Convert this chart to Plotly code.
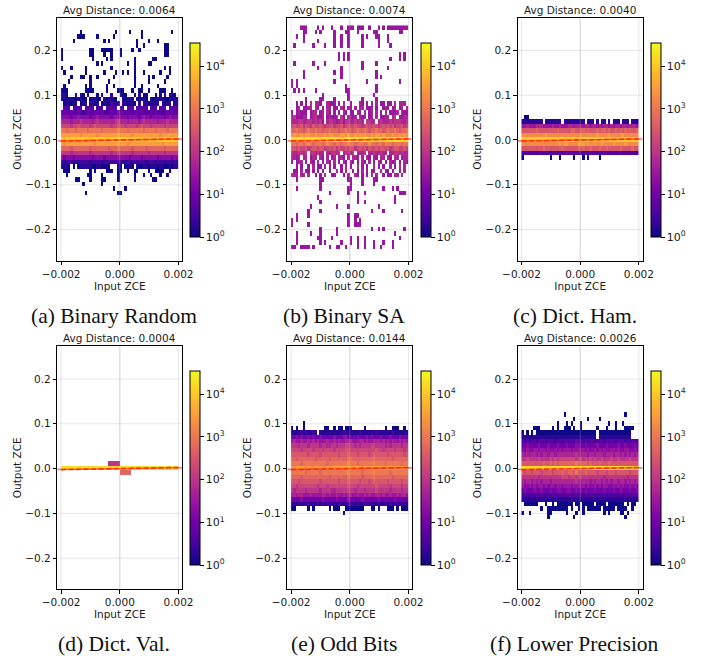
import numpy as np
import plotly.graph_objects as go

W, H = 711, 656
CH = "0123456789abcdefghij"
LEVEL_STEP = 0.25   # one character = a quarter of a decade of counts

TITLES = ["Avg Distance: 0.0064", "Avg Distance: 0.0074", "Avg Distance: 0.0040",
          "Avg Distance: 0.0004", "Avg Distance: 0.0144", "Avg Distance: 0.0026"]
CAPTIONS = ["(a) Binary Random", "(b) Binary SA", "(c) Dict. Ham.",
            "(d) Dict. Val.", "(e) Odd Bits", "(f) Lower Precision"]
X_TICKS = [-0.002, 0.0, 0.002]
Y_TICKS = [-0.2, -0.1, 0.0, 0.1, 0.2]
CB_TICKS = [0, 1, 2, 3, 4]
CB_LABELS = ["10<sup>0</sup>", "10<sup>1</sup>", "10<sup>2</sup>", "10<sup>3</sup>", "10<sup>4</sup>"]
CB_MAX = 4.54
TREND_X = [-0.002, 0.002]
TREND_Y = [-0.0025, 0.0025]
IDEAL_X = [-0.00213, 0.00213]
IDEAL_Y = [-0.00213, 0.00213]

# ---- sparse rows: output value -> occupied input-bins
A_SPARSE = {
 0.24:[8,23,29,34,47], 0.23:[7,8,9,15,22,34], 0.22:[5,18,20,32,37,41], 0.21:[32,35,44,45],
 0.20:[0,12,13,17,18,19,20,21,25,30,33,44,45], 0.19:[0,12,13,18,21,25,44,45],
 0.18:[0,13,19,21,31,39,40], 0.17:[15,17,28,31,37,38], 0.16:[0,4,10,21,31,44,46],
 0.15:[1,10,18,23,26,28,31,35,42,46], 0.14:[4,8,9,12,15,22,31,37,39,45],
 0.13:[3,12,20,31,37,44], 0.12:[1,10,12,19,22,31,34,41],
 0.11:[0,1,2,10,11,12,13,19,24,25,26,30,33,34,37,42,43,44,47],
 -0.07:[1,2,3,12,14,19,20,21,24,25,28,31,32,37,40,41,42,43,46],
 -0.08:[2,11,12,17,24,31,35,38,42,45], -0.09:[6,7,12,17,18,24,31,39,40],
 -0.10:[9,17], -0.11:[22,27], -0.12:[10,24,25],
}
B_SPARSE = {
 0.25:[4,5,6,11,13,17,21,24,25,26,28,29,30,33,37,39,41,42,43,44,45,46,47,48,49],
 0.24:[5,6,10,12,18,23,24,28,35,36,46,47], 0.23:[2,5,18,21,24,30,32,36,37,41],
 0.22:[5,11,18,21,24,30,37,41], 0.21:[1,9,14,18,21,24,30,37,42],
 0.19:[20,22,24,46,48], 0.18:[20,22,24,42,46,48], 0.17:[1,9,14,30,36],
 0.16:[11,21,30,41], 0.15:[5,18,21,36], 0.14:[5,21,36,38], 0.13:[0,2,18,32,46],
 0.12:[0,2,23,36], 0.11:[1,3,5,10,23,24,36], 0.10:[13,24,35], 0.09:[6,12,13,18,24,30,36],
 -0.09:[2,12,13,24,25,30,35,36], -0.10:[12,25,30,35], -0.11:[2,12,24,25,39,43,45],
 -0.12:[16,24,28,31,46,47,48], -0.13:[11,28,44], -0.14:[12,28,31,44], -0.15:[8,19,24,37],
 -0.16:[7,12,34,39,47], -0.17:[2,7,24,27,28], -0.18:[0,2,24,27,29], -0.19:[0,7,24,27,28,29],
 -0.20:[12,19,34,37,39,48], -0.21:[2,8,12,19,44], -0.22:[2,11,12,17,25,28,31,46],
 -0.23:[2,12,14,21,25,28,31,35,39,43], -0.24:[0,1,4,5,6,7,9,16,19,20,23,28,31,35,38,43],
}
C_SPARSE = {0.05:[1,2], -0.04:[0,12,16,22,26,28,33]}
D_SPARSE = {}
E_SPARSE = {
 0.10:[5], 0.09:[0,2,5,14,15,18,20,21,23,24,25,31,40,43,44,45,48],
 -0.09:[0,1,7,9,16,18,19,20,23,24,25,26,27,28,29,30,34,35,37,41,42,43,45,47,48,49],
 -0.10:[22],
}
F_SPARSE = {
 0.12:[18,44], 0.11:[22,28,33], 0.10:[15,19,21,25,37,40,43],
 0.09:[5,6,7,13,15,18,19,20,22,25,32,36,40,44,45,46,47],
 -0.09:[8,11,12,13,14,15,16,17,18,19,21,24,26,28,29,30,31,32,33,35,36,37,38,39,41,42,43,44,47],
 -0.10:[0,3,11,12,19,23,26,35,37,42,43,45], -0.11:[11,22,44],
}
SPARSE_LEVEL = [0, 6, 0, 0, 0, 0]

# ---- dense rows: output value -> one character per input-bin ('.' = empty)
A_DENSE = {
 0.10: "110...1.10 .1...0.1.. .1...100.. .0.1.00... 0.1.1.110. 1...",
 0.09: "0101100110 0.01100.10 1100..1011 1.10110.10 0111001011",
 0.08: ".011011.01 1.1101.011 02112.1101 10.1.11011 11.1011.11",
 0.07: ".332.3233. 3332.232.3 3332.33.33 3.33333.32 3.333.3333",
 0.06: "3443433432 3433443432 3433544343 3443433343 4332343433",
 0.05: "5555455655 5545565555 5456655545 5554565545 5555456555",
 0.04: "7777677787 7776787777 7778977767 7776787777 7677787777",
 0.03: "9999899a99 9989a99999 9899a99899 9989a99989 9999899999",
 0.02: "ccbcccbccc cbcccccbcc ccccdcccbc cccccbcccc bccccbcccc",
 0.01: "eeeeeeeede eeeeedeeee eeeefeeeee deeeeeeeee eedeeeeeee",
 0.00: "gfggggfggg ggfggggggf gggghggggf gggggfgggg fggggggggg",
 -0.01:"edeeeeeeee eeeedeeeee eeeefeeede eeeeeeeeee eeedeeeeee",
 -0.02:"bbbbabbbbb bbabbbbbbb abbbcbbbbb abbbbbabbb bbbbabbbbb",
 -0.03:"8888788888 8878888888 8788988888 7888888788 8888788888",
 -0.04:"5455545555 5554555545 5555655554 5555455555 5455555455",
 -0.05:"2122212122 2212222122 1222322122 1222221222 1222122122",
 -0.06:"0110.0.011 1110011001 0...10.011 0.10011011 1011001011",
}
B_DENSE = {
 0.08: "..6.6.6.7. 776..7666. 6.7..6...7 6.6.7.7.66 .66.7.777.",
 0.07: "..67.6677. 76.6.77.66 .76.66.7.7 7.667.6..6 76.67.67.7",
 0.06: "6.67666.67 7.67.76.6. 6.76.66.76 .7.67.7.6. 7.6667.766",
 0.05: "7866677.67 8667.67667 .86.7767.7 67.67.7.66 77.78.6677",
 0.04: "7778877887 8786.78876 7868877878 7.8877.787 7787888778",
 0.03: "9a99a8a98a 99a9899a89 9a89a99a99 89a99a989a 9a9a899a89",
 0.02: "bbcbbabcbb cbbabbcbbb abbcbbabcb bcbabbcbba bcbbcbabbc",
 0.01: "deddedeedd edddedeedd deedfddede deddedeede dddeddeded",
 0.00: "hhhhhghhhh hhghhhhhhh hghhihhhhg hhhhhghhhh ghhhhhhhgh",
 -0.01:"ccbccbcdcb cccbcdccbc cbccdccbcc cbcdccbccb dccbcccbcc",
 -0.02:"aa9a99a89a a9aa89a9a8 a99a9aa89a 9a8a99a9aa 9a89aa99a9",
 -0.03:"8778878.88 7877.77887 8.78878.77 78.7787787 7.77887877",
 -0.04:"7767.77.67 7.76.7.67. 776.7.776. 7.76.76.77 .76.77.677",
 -0.05:"6.677.6.76 .7.6.76.7. 6.76.76.6. 76.7.6.76. 6.767.6.76",
 -0.06:"..6.6..6.7 .66.7.6.6. .6.7.6..7. 6.6..7.6.6 ..7.6.7.7.",
 -0.07:".66.7.66.6 .6.6..6..7 .6.7..6.6. 7.6.66..7. 66.6..6.7.",
 -0.08:"777.77.7.. 6.6.7..66. ..6.7..76. 6.6.7.7..6 .66.77.7..",
}
C_DENSE = {
 0.04: "111111111. 1111111.11 1111111.11 1.1.11.1.1 11.111.111",
 0.03: "6676667776 6667667666 7767776776 7767677676 7767767776",
 0.02: "aaaaaabaaa aaaaabaaaa abbaabbaba aababbabaa babababaab",
 0.01: "dddddddddd eddddddddd dddddedddd ddeddddedd dddedddddd",
 0.00: "gggggggggg ggggggggfg gggfgggggg gggggggggg gggggggggg",
 -0.01:"dddddddddd ddddddedee ddddfeeded deddedddde ddddeddddd",
 -0.02:"aaaaaaaaab aaaaaaabaa aaaababaab aaabaabaaa aabaaaabaa",
 -0.03:"2323232332 3323323234 3332332323 3323233333 2332332323",
}
D_DENSE = {
 0.01: ".......... .......... 88888..... .......... ..........",
 0.00: "hhhhhhhhhh hhhhhhhhhh hhhhhhhhhh hhhhhhhhhh hhhhhhhhhh",
 -0.01:".......... .......... .....bbbbb .......... ..........",
}
E_DENSE = {
 0.08: "1111212112 1.11111111 1122111112 1111212111 1112111111",
 0.07: "4454544545 4454444454 4456444454 4454544454 4454445444",
 0.06: "6766766767 6766676676 7667776667 7676677767 6767667676",
 0.05: "8887888788 8878877887 8889988787 8888998888 7878888788",
 0.04: "9999899998 9998999989 999aa99999 999999a998 9999899989",
 0.03: "aaaaaaa9aa aa9aaaaaaa 9aaabaaa9a aaa9abaaaa a9aaaaaa9a",
 0.02: "bbabbbbbbb abbbbbabbb bbbbccbbbb bbbbbcbbbb bbbabbbbbb",
 0.01: "ccccbccccc cccccbcccc ccccdcccbc cccccdcccc bccccccbcc",
 0.00: "ddeeeddedd eedededeee eeeefeeeee deeeeefeee eeeeeeeeee",
 -0.01:"ccccccbccc ccbccccccc ccccdccccc bccccdcccc ccbccccccc",
 -0.02:"bbbbabbbbb bbbbbbabbb bbbacbbbbb abbbbcbbbb bbbabbbbbb",
 -0.03:"aaa9aaaaaa aa9aaaaaaa 9aaabaaaa9 aaa9abaaaa a9aaaaa9aa",
 -0.04:"9989999999 9899989999 9999a99989 999999a999 9989999899",
 -0.05:"8788887888 8878888778 8888988788 8788889888 8878888788",
 -0.06:"6767766676 6667767667 6676776676 6767667767 6676676776",
 -0.07:"4444544444 4445444445 4444644444 5444444544 4444544444",
 -0.08:"1112112211 1212122211 2211322121 1222111211 2121221211",
}
F_DENSE = {
 0.08: "0.0.0.0000 0000000000 0000000000 00.0000000 0000000..",
 0.07: "1111111111 1111111111 1111111111 11.1111111 1111111..",
 0.06: "3232332333 2333233233 3334332323 3233323333 2333233333",
 0.05: "4454444544 4544454445 4445544544 4454445444 4544544454",
 0.04: "5565566566 5655656566 6566666565 5656565566 5655665565",
 0.03: "7676776767 7677677777 7778777767 7677767776 7767676767",
 0.02: "8898888988 8898989999 9998998989 8988988898 8988889888",
 0.01: "aaaaaaaaab aabababbbb bbbcbbbbab aaabaaabaa aaaaaaaaaa",
 0.00: "hhhhhhhhhh hhhhhhhhhh hhhhhhhhhh hhhhhhhhhh hhhhhhhhhh",
 -0.01:"a9aa9aaa9a aaa9aaabaa bbacaaabaa aa9aaa9aaa 9aaaaa9aaa",
 -0.02:"8888888788 8888888999 8998998888 8888878888 8888878888",
 -0.03:"7677676767 7767777777 7778777776 7677676767 7677676767",
 -0.04:"6556565665 6566566566 6566666565 5656566556 5656556565",
 -0.05:"4544454454 4454455445 5445454544 4544454445 4454445445",
 -0.06:"2322323232 2323323233 3233232323 3223232323 2232322323",
 -0.07:"1111111111 1111111111 1211111111 1111111111 1111111111",
 -0.08:".000000... 0..0.00000 00.00.0000 0.0000.000 0000.0.00.",
}
SPARSE_ROWS = [A_SPARSE, B_SPARSE, C_SPARSE, D_SPARSE, E_SPARSE, F_SPARSE]
DENSE_ROWS = [A_DENSE, B_DENSE, C_DENSE, D_DENSE, E_DENSE, F_DENSE]

# ---- layout, in pixels of the page
AX_LEFT = [57.3, 287.3, 517.7]
AX_W = 125
ROW_TOP = [17.7, 346.3]
AX_H = 243
CB_LEFT = [190, 420.7, 650.5]
CB_W = 10
CB_TOP = [42.7, 370.7]
CB_H = 194.3
X_RANGE = [-0.00213, 0.00213]
Y_RANGE = [-0.2695, 0.273]
N_X = 50
N_Y = 51
x_centers = -0.002 + (np.arange(N_X) + 0.5) * 0.004 / N_X
y_centers = -0.25 + np.arange(N_Y) * 0.01 + 0.0007
GRID = "rgba(176,176,176,0.3)"
TXT = "#1a1a1a"
SANS = "DejaVu Sans"
FS = 10.5


def grid_for(sparse, dense, level):
    z = np.full((N_Y, N_X), np.nan)
    for v, cols in sparse.items():
        i = int(round((v + 0.25) * 100))
        for j in cols:
            z[i, j] = level * LEVEL_STEP
    for v, s in dense.items():
        i = int(round((v + 0.25) * 100))
        s = s.replace(" ", "")[:N_X]
        for j, c in enumerate(s):
            if c != ".":
                z[i, j] = CH.index(c) * LEVEL_STEP
    return z


fig = go.Figure()
shapes, annos = [], []
layout_axes = {}
for k in range(6):
    r, c = k // 3, k % 3
    n = "" if k == 0 else str(k + 1)
    l, t = AX_LEFT[c], ROW_TOP[r]
    layout_axes["xaxis" + n] = dict(
        domain=[l / W, (l + AX_W) / W], range=X_RANGE, anchor="y" + n,
        tickmode="array", tickvals=X_TICKS, tickformat=".3f", ticks="outside", ticklen=3.5,
        tickwidth=0.8, tickcolor="black", showline=True, mirror=True, linecolor="black",
        linewidth=1, showgrid=False, zeroline=False, tickfont=dict(family=SANS, size=FS, color=TXT),
        title=dict(text="Input ZCE", font=dict(family=SANS, size=FS, color=TXT), standoff=1))
    layout_axes["yaxis" + n] = dict(
        domain=[1 - (t + AX_H) / H, 1 - t / H], range=Y_RANGE, anchor="x" + n,
        tickmode="array", tickvals=Y_TICKS, tickformat=".1f", ticks="outside", ticklen=3.5,
        tickwidth=0.8, tickcolor="black", showline=True, mirror=True, linecolor="black",
        linewidth=1, showgrid=False, zeroline=False, tickfont=dict(family=SANS, size=FS, color=TXT),
        title=dict(text="Output ZCE", font=dict(family=SANS, size=FS, color=TXT), standoff=1.5))
    fig.add_trace(go.Heatmap(
        x=x_centers, y=y_centers, z=grid_for(SPARSE_ROWS[k], DENSE_ROWS[k], SPARSE_LEVEL[k]),
        xaxis="x" + n, yaxis="y" + n, colorscale="Plasma", zmin=0, zmax=CB_MAX,
        hoverinfo="skip", xgap=0, ygap=0,
        colorbar=dict(
            x=CB_LEFT[c] / W, xanchor="left", xref="paper", xpad=0, ypad=0,
            y=1 - (CB_TOP[r] + CB_H) / H, yanchor="bottom", yref="paper",
            len=CB_H / H, lenmode="fraction", thickness=CB_W, thicknessmode="pixels",
            outlinewidth=1, outlinecolor="black", borderwidth=0,
            tickmode="array", tickvals=CB_TICKS, ticktext=CB_LABELS, ticks="outside",
            ticklen=3.5, tickwidth=0.8, tickcolor="black",
            tickfont=dict(family=SANS, size=FS + 0.5, color=TXT))))
    # grid: under the cells, except the centre line that shows through them
    for v in X_TICKS:
        shapes.append(dict(type="line", layer="below", xref="x" + n, yref="y" + n + " domain",
                           x0=v, x1=v, y0=0, y1=1, line=dict(color=GRID, width=1)))
        if v == 0:
            shapes.append(dict(type="line", layer="above", xref="x" + n, yref="y" + n + " domain",
                               x0=v, x1=v, y0=0, y1=1, line=dict(color=GRID, width=1)))
    for v in Y_TICKS:
        shapes.append(dict(type="line", layer="below", yref="y" + n, xref="x" + n + " domain",
                           y0=v, y1=v, x0=0, x1=1, line=dict(color=GRID, width=1)))
    fig.add_trace(go.Scatter(x=IDEAL_X, y=IDEAL_Y, mode="lines", xaxis="x" + n, yaxis="y" + n,
                             line=dict(color="rgba(255,40,20,0.6)", width=1.5), hoverinfo="skip",
                             showlegend=False))
    fig.add_trace(go.Scatter(x=TREND_X, y=TREND_Y, mode="lines", xaxis="x" + n, yaxis="y" + n,
                             line=dict(color="#ff2a00", width=1.5, dash="5px,2.5px"),
                             hoverinfo="skip", showlegend=False))
    annos.append(dict(text=TITLES[k], xref="x" + n + " domain", yref="y" + n + " domain", x=0.5, y=1,
                      yshift=0, xanchor="center", yanchor="bottom", showarrow=False,
                      font=dict(family=SANS, size=FS, color=TXT)))
    annos.append(dict(text=CAPTIONS[k], xref="x" + n + " domain", yref="y" + n + " domain", x=0.5, y=0,
                      yshift=-41, xshift=-5.5, xanchor="center", yanchor="top", showarrow=False,
                      font=dict(family="Liberation Serif", size=21.5, color="#111111")))

fig.update_layout(width=W, height=H, autosize=False,
                  margin=dict(l=0, r=0, t=0, b=0, autoexpand=False),
                  paper_bgcolor="white", plot_bgcolor="white", showlegend=False,
                  shapes=shapes, annotations=annos, **layout_axes)
fig.write_html("out.html", config={"displayModeBar": False},
               post_script="document.body.style.margin='0';document.body.style.overflow='hidden';")
